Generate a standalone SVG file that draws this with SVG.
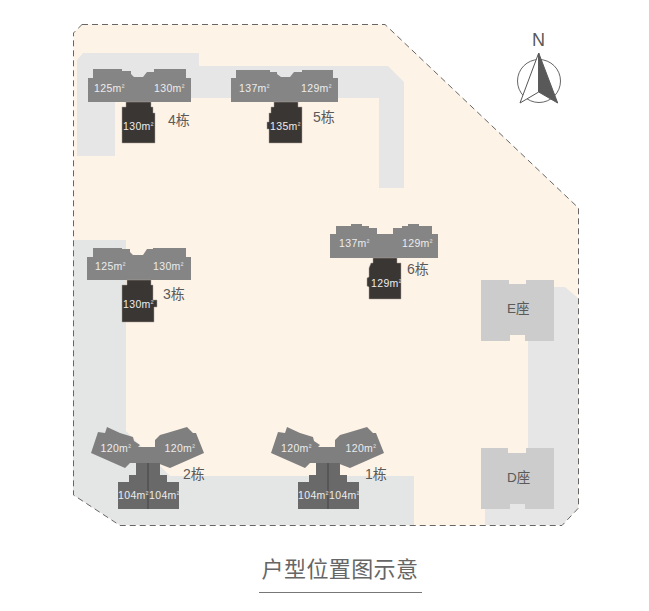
<svg xmlns="http://www.w3.org/2000/svg" width="649" height="611" viewBox="0 0 649 611">
<style>
text{font-family:"Liberation Sans","Noto Sans CJK SC",sans-serif}
.wing{fill:#858585}
.core{fill:#3a3634;stroke:#a89f97;stroke-width:.5}
.low{fill:#696969}
.up{fill:#7f7f7f}
.div{stroke:#454545;stroke-width:1;fill:none}
.road{fill:#e6e6e6}
.tower{fill:#cbcccb}
.a{font-size:10.5px;fill:#ececec;letter-spacing:.35px}
.a tspan{font-size:8px;baseline-shift:2.500px}
.l{font-size:14px;fill:#5a5a5a}
.m{font-size:13.500px;fill:#5a5a5a}
</style>
<defs>
<g id="twin">
<path class="up" d="M107 427 105 433 98 432 91 453 125 468 130 463H157L170 468 204 453 196 433 193 433 187 427 167 433 160 435 155 440V447H138L140 445 134 441 133 437 120 433Z"/>
<path class="low" d="M136 463H160V475H167V482H179V509H118V482H129V475H136Z"/>
<path class="div" d="M148 463V509"/>
</g>
</defs>
<g id="site">
<path d="M82 24.500H385L578.500 208V508L562 525.500H120L73.500 495V33Z" fill="#fef3e7"/>
<path class="road" d="M77 60 83 53H199V66H388L404 82V188H379V98H115V156H77Z"/>
<path fill="#e4e6e6" d="M73 240H126V431L170 476H414V525H120L73 495Z"/>
<path class="road" d="M528 287H565L578 298V508L562 525H485V500H528Z"/>
<path d="M82 24.500H385L578.500 208V508L562 525.500H120L73.500 495V33Z" fill="none" stroke="#666" stroke-dasharray="6 4"/>
</g>
<g id="north">
<circle cx="539" cy="81" r="21.5" fill="#fff" stroke="#666"/>
<path d="M538.7 53 520 103 538.7 92Z" fill="#fff" stroke="#555"/>
<path d="M538.7 53 557.7 103 538.7 92Z" fill="#595959" stroke="#595959"/>
<text x="538.5" y="46" text-anchor="middle" style="font-size:18px;fill:#595959">N</text>
</g>
<g id="b4">
<path class="wing" d="M88 78H93V69H122V71H131V74L134 77H143L147 72H154V69H186V78H191V102H88Z"/>
<path class="core" d="M126 102H151V107H153V113H155V143H122V107H126Z"/>
<text class="a" x="94" y="92">125m<tspan>²</tspan></text><text class="a" x="154" y="92">130m<tspan>²</tspan></text><text class="a" x="123" y="130">130m<tspan>²</tspan></text><text class="l" x="168" y="125">4栋</text>
</g>
<g id="b5">
<path class="wing" d="M231 78H236V70H270V72H277V74L281 77H290L294 72H302V70H333V78H338V102H231Z"/>
<path class="core" d="M274 102H298V107H302V143H269V129H267V122H269V113H271V107H274Z"/>
<text class="a" x="239" y="92">137m<tspan>²</tspan></text><text class="a" x="301" y="92">129m<tspan>²</tspan></text><text class="a" x="270" y="130">135m<tspan>²</tspan></text><text class="l" x="313" y="122">5栋</text>
</g>
<g id="b6">
<path class="wing" d="M330 234H336V226H351V224H362V226H369V228H377V234H393V228H402V226H408V224H419V226H432V234H438V258H330Z"/>
<path class="core" d="M373 258H397V263H401V299H369V287L367 286V278L369 277V268L371 263H373Z"/>
<text class="a" x="339" y="247">137m<tspan>²</tspan></text><text class="a" x="402" y="247">129m<tspan>²</tspan></text><text class="a" x="371" y="287">129m<tspan>²</tspan></text><text class="l" x="407" y="274">6栋</text>
</g>
<g id="b3">
<path class="wing" d="M87 257H93V248H122V249H130V252L133 255H143L147 249H153V248H186V257H191V280H87Z"/>
<path class="core" d="M127 280H151V285H153V300H157V307H154V322H122V285H127Z"/>
<text class="a" x="95" y="270">125m<tspan>²</tspan></text><text class="a" x="153" y="270">130m<tspan>²</tspan></text><text class="a" x="123" y="308">130m<tspan>²</tspan></text><text class="l" x="163" y="299">3栋</text>
</g>
<g id="b2">
<use href="#twin"/>
<text class="a" x="100.500" y="452">120m<tspan>²</tspan></text><text class="a" x="164.500" y="452">120m<tspan>²</tspan></text><text class="a" x="118" y="499">104m<tspan>²</tspan></text><text class="a" x="149" y="499">104m<tspan>²</tspan></text><text class="l" x="183" y="479">2栋</text>
</g>
<g id="b1">
<use href="#twin" x="180"/>
<text class="a" x="281" y="452">120m<tspan>²</tspan></text><text class="a" x="345.500" y="452">120m<tspan>²</tspan></text><text class="a" x="298" y="499">104m<tspan>²</tspan></text><text class="a" x="329" y="499">104m<tspan>²</tspan></text><text class="l" x="365" y="479">1栋</text>
</g>
<g id="tower-e">
<path class="tower" d="M481 280H509V284H526V280H554V341H525V335H510V341H481Z"/>
<text class="m" x="507" y="313">E座</text>
</g>
<g id="tower-d">
<path class="tower" d="M481 448H508V453H526V448H554V509H525V504H510V509H481Z"/>
<text class="m" x="507" y="482">D座</text>
</g>
<g id="title">
<text x="340" y="577" text-anchor="middle" style="font-size:22px;fill:#666;letter-spacing:.4px">户型位置图示意</text>
<path d="M259 592.500H422" stroke="#777" fill="none"/>
</g>
<g id="connectors"/>
</svg>
